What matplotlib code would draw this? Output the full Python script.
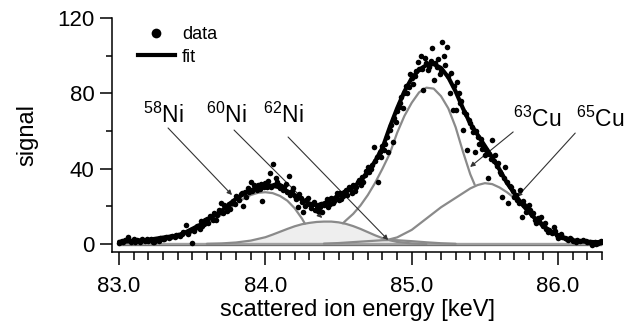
import matplotlib
matplotlib.use("Agg")
import matplotlib.pyplot as plt
from matplotlib.lines import Line2D
from matplotlib.ticker import MultipleLocator

plt.rcParams['font.family'] = ['Liberation Sans', 'DejaVu Sans']
plt.rcParams['mathtext.fontset'] = 'custom'
plt.rcParams['mathtext.rm'] = 'Liberation Sans'

# ---------------------------------------------------------
# measured points (read off the figure)
# ---------------------------------------------------------
data_x = [83.00, 83.02, 83.04, 83.06, 83.08, 83.10, 83.12, 83.14, 83.16, 83.18,
          83.20, 83.22, 83.24, 83.26, 83.28, 83.30, 83.32, 83.34, 83.36, 83.38,
          83.40, 83.42, 83.44, 83.46, 83.47, 83.49, 83.50, 83.51, 83.53, 83.55,
          83.56, 83.58, 83.60, 83.61, 83.63, 83.65, 83.66, 83.68, 83.70, 83.71,
          83.73, 83.75, 83.76, 83.78, 83.80, 83.81, 83.83, 83.85, 83.86, 83.88,
          83.90, 83.91, 83.93, 83.95, 83.96, 83.98, 84.00, 84.01, 84.03, 84.05,
          84.06, 84.08, 84.10, 84.11, 84.13, 84.15, 84.16, 84.18, 84.20, 84.22,
          84.23, 84.25, 84.26, 84.28, 84.30, 84.31, 84.33, 84.35, 84.36, 84.38,
          84.39, 84.41, 84.43, 84.45, 84.46, 84.48, 84.50, 84.51, 84.53, 84.55,
          84.56, 84.58, 84.60, 84.61, 84.63, 84.65, 84.66, 84.68, 84.70, 84.71,
          84.73, 84.74, 84.76, 84.77, 84.78, 84.80, 84.81, 84.83, 84.85, 84.87,
          84.88, 84.90, 84.91, 84.93, 84.95, 84.96, 84.98, 85.00, 85.01, 85.03,
          85.04, 85.06, 85.07, 85.08, 85.10, 85.11, 85.13, 85.14, 85.15, 85.17,
          85.18, 85.20, 85.21, 85.22, 85.24, 85.25, 85.26, 85.28, 85.29, 85.30,
          85.32, 85.33, 85.35, 85.36, 85.38, 85.39, 85.41, 85.42, 85.43, 85.45,
          85.46, 85.48, 85.50, 85.52, 85.53, 85.55, 85.56, 85.58, 85.60, 85.62,
          85.63, 85.64, 85.66, 85.67, 85.69, 85.71, 85.72, 85.74, 85.75, 85.77,
          85.79, 85.80, 85.82, 85.84, 85.86, 85.88, 85.90, 85.92, 85.94, 85.97,
          85.99, 86.01, 86.03, 86.06, 86.08, 86.10, 86.13, 86.17, 86.20, 86.23,
          86.25, 86.27, 86.29, 86.30,
          83.03, 83.07, 83.11, 83.15, 83.19, 83.23, 83.27, 83.31, 83.35, 83.39,
          83.43, 83.48, 83.52, 83.57, 83.59, 83.62, 83.64, 83.67, 83.69, 83.72,
          83.74, 83.77, 83.79, 83.82, 83.84, 83.87, 83.89, 83.92, 83.94, 83.97,
          83.99, 84.02, 84.04, 84.07, 84.09, 84.12, 84.14, 84.17, 84.19, 84.21,
          84.24, 84.27, 84.29, 84.32, 84.34, 84.37, 84.40, 84.42, 84.44, 84.47,
          84.49, 84.52, 84.54, 84.57, 84.59, 84.62, 84.64, 84.67, 84.69, 84.72,
          84.75, 84.79, 84.82, 84.84, 84.86, 84.89, 84.92, 84.94, 84.97, 84.99,
          85.02, 85.05, 85.09, 85.12, 85.16, 85.19, 85.23, 85.27, 85.31, 85.34,
          85.37, 85.40, 85.44, 85.47, 85.49, 85.51, 85.54, 85.57, 85.59, 85.61,
          85.65, 85.68, 85.70, 85.73, 85.76, 85.78, 85.81, 85.83, 85.85, 85.87,
          85.89, 85.91, 85.93, 85.96, 85.98, 86.00, 86.02, 86.05, 86.07, 86.09,
          86.12, 86.15, 86.19, 86.22, 86.26, 86.28]
data_y = [0.5, 1.5, 2.0, 3.7, 1.0, 2.5, 2.0, 1.2, 2.8, 1.5,
          1.8, 2.5, 1.3, 2.2, 3.0, 2.4, 3.8, 3.0, 4.2, 3.6,
          5.0, 4.3, 6.2, 10.0, 5.5, 7.5, 0.3, 6.8, 9.5, 8.0,
          12.0, 10.5, 13.5, 11.0, 14.5, 16.5, 13.0, 18.0, 22.0, 16.5,
          19.5, 21.5, 18.5, 23.0, 25.5, 24.5, 26.5, 20.0, 27.5, 29.5,
          33.0, 28.0, 30.5, 31.5, 29.0, 23.0, 32.5, 30.5, 37.7, 42.5,
          31.5, 33.0, 29.5, 31.0, 30.0, 27.5, 36.0, 28.0, 25.5, 19.7,
          26.5, 22.5, 17.0, 23.5, 21.0, 19.0, 22.5, 20.0, 17.5, 21.5,
          17.0, 22.0, 19.5, 24.5, 22.0, 25.0, 23.5, 27.0, 25.5, 28.5,
          26.0, 29.0, 31.5, 28.0, 33.0, 31.5, 35.5, 36.5, 41.0, 38.0,
          42.0, 51.5, 46.0, 33.0, 49.0, 52.0, 50.0, 57.0, 60.5, 54.0,
          67.0, 70.5, 73.0, 78.0, 80.0, 84.0, 83.5, 88.0, 85.0, 92.0,
          96.6, 100.0, 93.0, 82.0, 96.0, 92.5, 97.0, 104.0, 87.0, 94.0,
          98.0, 92.5, 107.0, 100.0, 104.6, 89.0, 80.0, 71.0, 84.0, 71.0,
          80.0, 75.0, 60.5, 70.0, 50.0, 66.0, 62.0, 59.5, 49.0, 57.0,
          53.0, 50.5, 47.5, 35.0, 48.0, 55.0, 44.0, 41.5, 38.0, 25.0,
          35.0, 41.0, 22.0, 31.0, 28.0, 26.0, 23.5, 28.7, 14.3, 20.5,
          19.0, 20.7, 15.5, 13.0, 14.0, 14.3, 9.5, 8.0, 7.5, 9.0,
          5.0, 4.2, 3.7, 2.5, 3.2, 1.5, 2.2, 2.1, 0.8, -0.5,
          1.2, 0.5, 1.6, 1.0,
          1.0, 2.2, 0.8, 1.9, 2.6, 1.0, 1.7, 2.9, 3.5, 4.8,
          5.2, 6.8, 8.5, 9.8, 12.5, 15.0, 12.5, 15.5, 17.0, 20.5,
          17.5, 22.0, 21.0, 23.5, 27.0, 25.0, 27.5, 31.5, 28.5, 32.0,
          30.0, 33.5, 30.0, 35.0, 31.5, 28.5, 32.0, 26.0, 29.5, 24.0,
          24.5, 20.0, 24.5, 21.0, 18.0, 19.5, 20.5, 24.0, 21.0, 23.0,
          27.0, 24.0, 27.5, 30.0, 27.0, 30.0, 34.0, 33.0, 39.0, 40.0,
          44.0, 46.0, 53.0, 49.0, 63.0, 65.0, 75.0, 72.0, 80.0, 90.0,
          89.0, 93.0, 99.0, 94.0, 96.0, 90.0, 95.0, 91.0, 86.0, 76.0,
          69.0, 64.0, 60.0, 56.0, 52.0, 50.0, 45.0, 47.0, 43.0, 37.0,
          33.0, 30.0, 25.0, 22.0, 23.0, 17.0, 18.0, 16.5, 11.0, 12.0,
          10.5, 11.0, 6.5, 6.0, 7.0, 3.0, 5.5, 3.0, 2.0, 2.6,
          1.2, 1.5, 1.8, 1.0, 0.0, 1.3]

# fit curve
fit_x = [83.00, 83.10, 83.20, 83.30, 83.40, 83.45, 83.50, 83.55, 83.60, 83.65,
         83.70, 83.75, 83.80, 83.85, 83.90, 83.95, 84.00, 84.05, 84.10, 84.15,
         84.20, 84.25, 84.30, 84.35, 84.40, 84.45, 84.50, 84.55, 84.60, 84.65,
         84.70, 84.75, 84.80, 84.85, 84.90, 84.95, 85.00, 85.05, 85.10, 85.15,
         85.20, 85.25, 85.30, 85.35, 85.40, 85.45, 85.50, 85.55, 85.60, 85.65,
         85.70, 85.75, 85.80, 85.85, 85.90, 85.95, 86.00, 86.05, 86.10, 86.15,
         86.20, 86.25, 86.30]
fit_y = [1.2, 1.5, 2.2, 3.4, 4.5, 6.0, 8.0, 10.0, 12.5, 15.0,
         17.5, 21.0, 24.0, 26.5, 28.5, 30.0, 31.0, 31.0, 30.0, 28.0,
         26.0, 23.5, 21.5, 20.5, 21.5, 23.5, 25.5, 27.5, 30.0, 33.5,
         38.0, 44.0, 51.0, 62.0, 72.0, 81.0, 88.0, 92.5, 95.0, 95.5,
         93.5, 88.5, 81.0, 72.0, 64.0, 58.0, 52.0, 46.0, 39.5, 32.5,
         27.0, 21.5, 17.0, 13.0, 9.5, 6.8, 4.7, 3.0, 2.0, 1.5,
         1.2, 1.0, 1.0]

# peak components
ni58_x = [83.0, 83.2, 83.4, 83.5, 83.6, 83.7, 83.8, 83.85, 83.9, 83.95,
          84.0, 84.05, 84.1, 84.15, 84.2, 84.25, 84.27]
ni58_y = [0.5, 1.0, 3.5, 6.5, 10.5, 15.5, 21.5, 24.0, 26.0, 27.2,
          27.5, 27.0, 25.5, 23.0, 19.0, 13.5, 10.8]

ni60_x = [83.6, 83.7, 83.8, 83.9, 84.0, 84.05, 84.1, 84.15, 84.2, 84.25,
          84.3, 84.35, 84.4, 84.45, 84.5, 84.55, 84.6, 84.65, 84.7, 84.75,
          84.8, 84.85, 84.9, 85.0, 85.1]
ni60_y = [0.1, 0.3, 0.8, 1.8, 3.6, 5.0, 6.5, 8.0, 9.4, 10.5,
          11.2, 11.7, 11.9, 11.9, 11.5, 10.7, 9.5, 8.0, 6.3, 4.6,
          3.1, 2.0, 1.1, 0.3, 0.0]

ni62_x = [84.4, 84.5, 84.6, 84.7, 84.8, 84.85, 84.9, 85.0, 85.1, 85.2, 85.3]
ni62_y = [0.2, 0.5, 1.0, 1.5, 2.0, 2.1, 2.0, 1.5, 0.9, 0.4, 0.1]

cu63_x = [84.53, 84.55, 84.6, 84.65, 84.7, 84.75, 84.8, 84.85, 84.9, 84.95,
          85.0, 85.05, 85.1, 85.15, 85.2, 85.25, 85.3, 85.35, 85.4, 85.43]
cu63_y = [11.0, 12.5, 16.0, 20.5, 26.0, 32.5, 40.0, 48.0, 59.0, 68.0,
          75.0, 80.5, 83.0, 82.5, 78.5, 72.0, 62.0, 49.0, 37.0, 31.5]

cu65_x = [84.83, 84.9, 85.0, 85.05, 85.1, 85.15, 85.2, 85.25, 85.3, 85.35,
          85.4, 85.45, 85.5, 85.55, 85.6, 85.65, 85.7, 85.75, 85.8, 85.85,
          85.9, 85.95, 86.0, 86.05, 86.1, 86.2, 86.3]
cu65_y = [2.1, 3.5, 7.5, 10.5, 13.5, 16.5, 19.5, 22.0, 24.5, 27.0,
          29.5, 31.3, 32.3, 31.8, 30.0, 27.5, 24.5, 20.5, 16.5, 12.5,
          9.0, 6.3, 4.2, 2.7, 1.7, 0.7, 0.3]

# labels: mass number, element, text position, line start, line end
iso_mass = ['58', '60', '62', '63', '65']
iso_elem = ['Ni', 'Ni', 'Ni', 'Cu', 'Cu']
label_pos = [(83.164, 64.3), (83.595, 64.3), (83.984, 64.3), (85.693, 62.1), (86.124, 62.1)]
line_start = [(83.335, 61.6), (83.786, 60.5), (84.155, 56.8), (85.693, 59.5), (86.117, 58.9)]
line_end = [(83.772, 26.0), (84.388, 13.8), (84.839, 2.1), (85.399, 40.9), (85.720, 25.0)]

# ---------------------------------------------------------
# figure
# ---------------------------------------------------------
fig = plt.figure(figsize=(6.32, 3.32), dpi=100)
ax = fig.add_axes([112/632, 80/332, 490/632, 234/332])

gray = '#8a8a8a'
ax.fill_between(ni60_x, ni60_y, color='#eeeeee', lw=0, zorder=1)
ax.fill_between(ni62_x, ni62_y, color='#eeeeee', lw=0, zorder=1)
ax.plot([83.0, 86.3], [0, 0], color='#a0a0a0', lw=2.4, zorder=2)
ax.plot([83.0, 86.3], [-0.4, -0.4], color='#707070', lw=0.8, zorder=2)
for cx, cy in [(ni58_x, ni58_y), (ni60_x, ni60_y), (ni62_x, ni62_y),
               (cu63_x, cu63_y), (cu65_x, cu65_y)]:
    ax.plot(cx, cy, color=gray, lw=1.6, zorder=3, solid_capstyle='round')

for i in range(len(iso_mass)):
    ax.annotate('', xy=line_end[i], xytext=line_start[i],
                arrowprops=dict(arrowstyle='-|>', color='#333333', lw=0.8,
                                mutation_scale=7, shrinkA=0, shrinkB=0),
                zorder=4)
    ax.text(label_pos[i][0], label_pos[i][1],
            r'$\mathrm{^{%s}}$%s' % (iso_mass[i], iso_elem[i]),
            fontsize=16.5, ha='left', va='baseline', zorder=6)

ax.plot(data_x, data_y, 'o', color='black', ms=4.0, mew=0, zorder=5)
ax.plot(fit_x, fit_y, color='black', lw=3, zorder=6, solid_capstyle='round')

handles = [Line2D([], [], marker='o', ls='', color='black', ms=7, mew=0),
           Line2D([], [], color='black', lw=3)]
ax.legend(handles, ['data', 'fit'], loc='upper left', bbox_to_anchor=(0.053, 0.965),
          frameon=False, fontsize=13, handlelength=2.05, handletextpad=0.4,
          labelspacing=0.3, borderpad=0, borderaxespad=0)

ax.set_xlim(82.952, 86.30)
ax.set_ylim(-4.25, 120)
ax.xaxis.set_major_locator(MultipleLocator(1.0))
ax.xaxis.set_minor_locator(MultipleLocator(0.1))
ax.yaxis.set_major_locator(MultipleLocator(40))
ax.yaxis.set_minor_locator(MultipleLocator(20))
ax.xaxis.set_major_formatter(plt.FormatStrFormatter('%.1f'))

for s in ['top', 'right']:
    ax.spines[s].set_visible(False)
for s in ['left', 'bottom']:
    ax.spines[s].set_linewidth(1.1)
ax.tick_params(axis='both', which='major', labelsize=16, width=1.1)
ax.tick_params(axis='y', which='major', length=8.5, pad=4)
ax.tick_params(axis='y', which='minor', length=4.5, width=1.1)
ax.tick_params(axis='x', which='major', length=9, pad=8)
ax.tick_params(axis='x', which='minor', length=5.5, width=1.1)

ax.set_xlabel('scattered ion energy [keV]', fontsize=17, labelpad=2)
ax.set_ylabel('signal', fontsize=17, labelpad=14)

fig.savefig('out.png', dpi=100)
